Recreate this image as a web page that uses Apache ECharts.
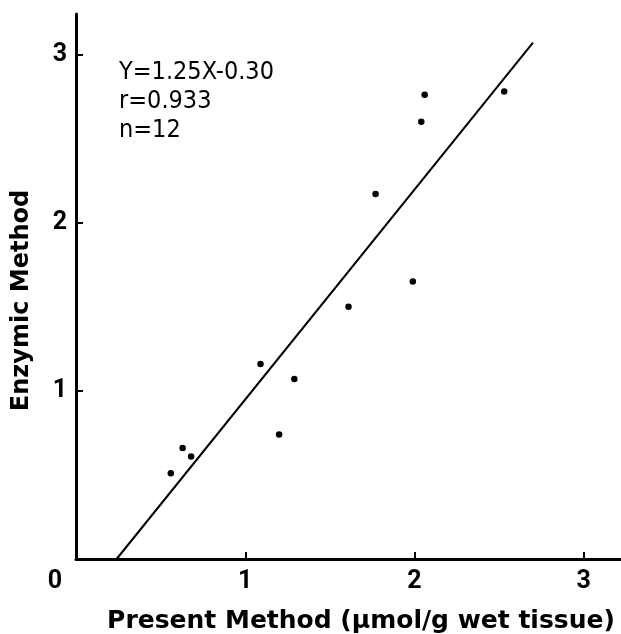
<!DOCTYPE html>
<html>
<head>
<meta charset="utf-8">
<script src="https://cdn.jsdelivr.net/npm/echarts@6/dist/echarts.min.js"></script>
<style>html,body{margin:0;padding:0;background:#fff;}#c{width:621px;height:634px;}</style>
</head>
<body>
<div id="c"></div>
<script>
const presentMethod = [0.56, 0.63, 0.68, 1.09, 1.20, 1.29, 1.61, 1.77, 1.99, 2.04, 2.06, 2.53];
const enzymicMethod = [0.51, 0.66, 0.61, 1.16, 0.74, 1.07, 1.50, 2.17, 1.65, 2.60, 2.76, 2.78];
const regLineX = [0.24, 2.70];
const regLineY = [0.00, 3.07];
const xTicks = [0, 1, 2, 3];
const yTicks = [1, 2, 3];
const annotation = ['Y=1.25X-0.30', 'r=0.933', 'n=12'];

const chart = echarts.init(document.getElementById('c'));
const font = 'Roboto';
const titleFont = 'DejaVu Sans';
chart.setOption({
  animation: false,
  backgroundColor: '#fff',
  grid: { left: 76, top: 14, right: 0, bottom: 75, containLabel: false, outerBoundsMode: 'none' },
  title: {
    text: annotation.join('\n'),
    left: 114, top: 53,
    textStyle: { fontFamily: 'DejaVu Sans Condensed', fontSize: 25, fontWeight: 'normal', color: '#000', lineHeight: 29, letterSpacing: -1 }
  },
  xAxis: {
    type: 'value', min: 0, max: 3.22, interval: 1,
    splitLine: { show: false },
    axisLine: { lineStyle: { color: '#000', width: 3 } },
    axisTick: { inside: true, length: 7, lineStyle: { color: '#000', width: 2 } },
    axisLabel: {
      showMaxLabel: false, color: '#000', fontFamily: font, fontWeight: 'bold', fontSize: 25, margin: 10,
      formatter: v => xTicks.includes(v) ? (v === 0 ? '{z|0}' : String(v)) : '',
      rich: { z: { fontFamily: font, fontWeight: 'bold', fontSize: 25, color: '#000', padding: [0, 42, 0, 0] } }
    },
    name: 'Present Method (\u00b5mol/g wet tissue)',
    nameLocation: 'middle', nameGap: 50,
    nameTextStyle: { color: '#000', fontFamily: titleFont, fontWeight: 'bold', fontSize: 25, padding: [0, 0, 0, 25] }
  },
  yAxis: {
    type: 'value', min: 0, max: 3.24, interval: 1,
    splitLine: { show: false },
    axisLine: { lineStyle: { color: '#000', width: 3 } },
    axisTick: { inside: true, length: 7, lineStyle: { color: '#000', width: 2 } },
    axisLabel: {
      showMinLabel: false, showMaxLabel: false, color: '#000', fontFamily: font, fontWeight: 'bold', fontSize: 25, margin: 9,
      formatter: v => yTicks.includes(v) ? String(v) : ''
    },
    name: 'Enzymic Method',
    nameLocation: 'middle', nameGap: 42,
    nameTextStyle: { color: '#000', fontFamily: titleFont, fontWeight: 'bold', fontSize: 24, padding: [0, 28, 0, 0] }
  },
  series: [
    {
      type: 'line',
      data: regLineX.map((x, i) => [x, regLineY[i]]),
      symbol: 'none',
      lineStyle: { color: '#000', width: 2 },
      z: 2
    },
    {
      type: 'scatter',
      data: presentMethod.map((x, i) => [x, enzymicMethod[i]]),
      symbol: 'circle', symbolSize: 6.5,
      itemStyle: { color: '#000', opacity: 1 },
      z: 3
    }
  ]
});
</script>
</body>
</html>
